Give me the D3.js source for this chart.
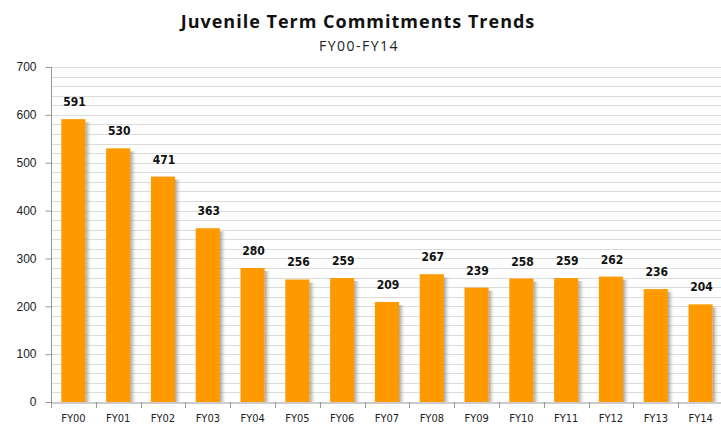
<!DOCTYPE html>
<html><head><meta charset="utf-8">
<script src="https://cdn.jsdelivr.net/npm/d3@7"></script>
<style>body{margin:0;background:#fff}svg{display:block}</style>
</head><body>
<svg id="c" width="721" height="427"></svg>
<script>
const categories = ["FY00","FY01","FY02","FY03","FY04","FY05","FY06","FY07","FY08","FY09","FY10","FY11","FY12","FY13","FY14"];
const values = [591,530,471,363,280,256,259,209,267,239,258,259,262,236,204];
const yTicks = [0,100,200,300,400,500,600,700];
const minorTicks = d3.range(0,701,20);

const svg = d3.select("#c");
const x = d3.scaleBand().domain(categories).range([51,723]).paddingInner(0.46).paddingOuter(0.23);
const y = d3.scaleLinear().domain([0,700]).range([402,67]);

const defs = svg.append("defs");
const g = defs.append("linearGradient").attr("id","sh").attr("x1","0").attr("x2","1").attr("y1","0").attr("y2","0");
g.append("stop").attr("offset","0").attr("stop-color","#8a8a8a").attr("stop-opacity",0.8);
g.append("stop").attr("offset","1").attr("stop-color","#cfcfcf").attr("stop-opacity",0);

// gridlines
svg.append("g").selectAll("line").data(minorTicks.filter(d=>d>0)).join("line")
  .attr("x1",51).attr("x2",721).attr("y1",d=>Math.round(y(d))+0.5).attr("y2",d=>Math.round(y(d))+0.5)
  .attr("stroke","#dcdcdc").attr("stroke-width",1);

// shadows
svg.append("g").selectAll("rect").data(values).join("rect")
  .attr("x",(d,i)=>x(categories[i])+x.bandwidth())
  .attr("y",d=>y(d)+3).attr("width",6).attr("height",d=>402-y(d)-3)
  .attr("fill","url(#sh)");

// bars
svg.append("g").selectAll("rect").data(values).join("rect")
  .attr("x",(d,i)=>x(categories[i])).attr("y",d=>y(d))
  .attr("width",x.bandwidth()).attr("height",d=>402-y(d))
  .attr("fill","#ff9900");

// labels
svg.append("g").selectAll("text").data(values).join("text")
  .attr("x",(d,i)=>x(categories[i])+x.bandwidth()/2+1).attr("y",d=>y(d)-13)
  .attr("text-anchor","middle").attr("font-family","'DejaVu Sans Condensed','DejaVu Sans',sans-serif")
  .attr("font-weight","bold").attr("font-size","12px").attr("fill","#111").text(d=>d);

// y axis
const ya = svg.append("g").attr("transform","translate(51.5,0)")
  .call(d3.axisLeft(y).tickValues(yTicks).tickSize(6).tickPadding(9));
ya.select(".domain").attr("stroke","#999").attr("d","M-0,67V402.5");
ya.selectAll(".tick line").attr("stroke","#999");
ya.selectAll("text").attr("font-family","'Liberation Sans',Arial,sans-serif").attr("font-size","12px").attr("fill","#222");

// x axis
const xa = svg.append("g").attr("transform","translate(0,402.5)")
  .call(d3.axisBottom(x).tickSize(0).tickPadding(12));
xa.select(".domain").attr("stroke","#999");
xa.selectAll("text").attr("font-family","'DejaVu Sans Condensed','DejaVu Sans',sans-serif").attr("font-size","11px").attr("fill","#222");
const bounds = d3.range(0,16).map(i=>51+i*(672/15));
svg.append("g").selectAll("line").data(bounds).join("line")
  .attr("x1",d=>Math.round(d)+0.5).attr("x2",d=>Math.round(d)+0.5).attr("y1",402).attr("y2",408)
  .attr("stroke","#999");

// titles
svg.append("text").attr("x",358).attr("y",28).attr("text-anchor","middle")
  .attr("font-family","'Open Sans',sans-serif").attr("font-weight","bold").attr("font-size","18px")
  .attr("letter-spacing","1px")
  .attr("fill","#111").text("Juvenile Term Commitments Trends");
svg.append("text").attr("x",359).attr("y",51).attr("text-anchor","middle")
  .attr("font-family","'Open Sans',sans-serif").attr("font-size","14px").attr("letter-spacing","1.5px")
  .attr("fill","#222").text("FY00-FY14");
</script>
</body></html>
